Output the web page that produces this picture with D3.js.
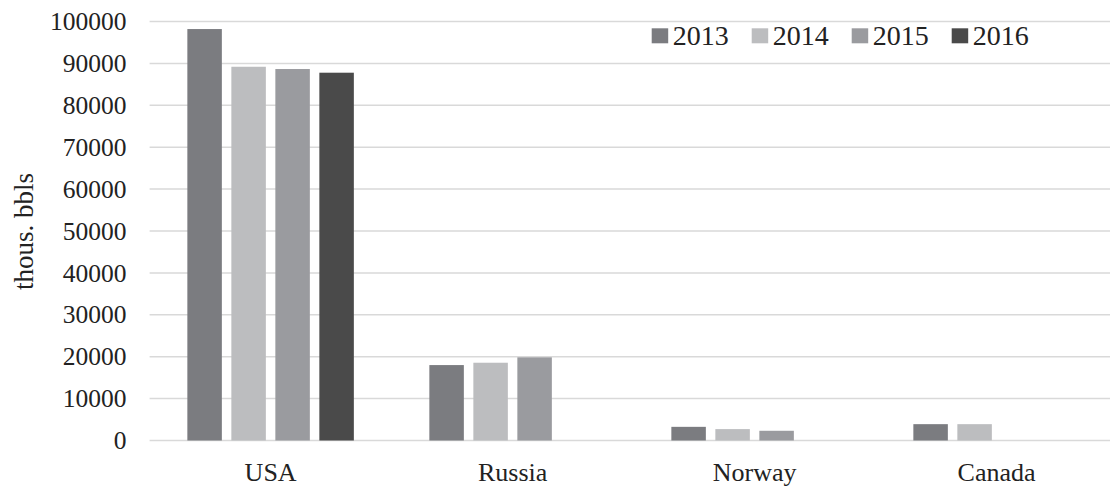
<!DOCTYPE html>
<html>
<head>
<meta charset="utf-8">
<script src="https://cdn.jsdelivr.net/npm/d3@7"></script>
<style>
  body { margin: 0; background: #fff; }
  svg text { font-family: "Liberation Serif", "Times New Roman", Times, serif !important; fill: #222; }
</style>
</head>
<body>
<svg id="chart" width="1110" height="486"></svg>
<script>
// data
var countries = ["USA", "Russia", "Norway", "Canada"];
var years = ["2013", "2014", "2015", "2016"];
var v2013 = [98200, 18000, 3260, 3900];
var v2014 = [89200, 18560, 2720, 3900];
var v2015 = [88660, 19850, 2320, null];
var v2016 = [87780, null, null, null];
var yTicks = [0, 10000, 20000, 30000, 40000, 50000, 60000, 70000, 80000, 90000, 100000];
var colors = ["#7b7c80", "#bcbdbf", "#9a9b9f", "#4a4a4a"];

var series = [v2013, v2014, v2015, v2016];

var svg = d3.select("#chart");
var margin = {top: 21.5, left: 149.6, bottom: 45.5};
var plotW = 968;   // the last category runs past the right edge, as in the original
var height = 486 - margin.top - margin.bottom;

var g = svg.append("g")
    .attr("transform", "translate(" + margin.left + "," + margin.top + ")");

var x0 = d3.scaleBand().domain(countries).range([0, plotW]).padding(0);
var x1 = d3.scaleBand().domain(years).range([0, x0.bandwidth()])
    .paddingInner(0.216).paddingOuter(0.858);
var y = d3.scaleLinear().domain([0, 100000]).range([height, 0]);
var color = d3.scaleOrdinal().domain(years).range(colors);

// gridlines
g.selectAll(".grid")
    .data(yTicks)
    .enter().append("line")
    .attr("x1", 0)
    .attr("x2", plotW)
    .attr("y1", function(d) { return y(d); })
    .attr("y2", function(d) { return y(d); })
    .attr("stroke", "#d9d9d9")
    .attr("stroke-width", 1.5);

// y axis labels
var yAxis = g.append("g")
    .call(d3.axisLeft(y).tickValues(yTicks).tickSize(0).tickPadding(23).tickFormat(d3.format("d")));
yAxis.select(".domain").remove();
yAxis.attr("font-family", null).attr("font-size", null);
yAxis.selectAll("text")
    .style("font-size", "25.5px")
    .attr("fill", "#222");

// x axis labels
var xAxis = g.append("g")
    .attr("transform", "translate(0," + height + ")")
    .call(d3.axisBottom(x0).tickSize(0).tickPadding(22));
xAxis.select(".domain").remove();
xAxis.attr("font-family", null).attr("font-size", null);
xAxis.selectAll("text")
    .style("font-size", "26px")
    .attr("fill", "#222");

// bars
var groups = g.selectAll(".country")
    .data(countries)
    .enter().append("g")
    .attr("transform", function(d) { return "translate(" + x0(d) + ",0)"; });

groups.selectAll("rect")
    .data(function(c, i) {
        return years.map(function(yr, j) { return {year: yr, value: series[j][i]}; })
            .filter(function(d) { return d.value != null; });
    })
    .enter().append("rect")
    .attr("x", function(d) { return x1(d.year); })
    .attr("y", function(d) { return y(d.value); })
    .attr("width", x1.bandwidth())
    .attr("height", function(d) { return height - y(d.value); })
    .attr("fill", function(d) { return color(d.year); });

// y axis title
svg.append("text")
    .attr("transform", "translate(33,231.5) rotate(-90)")
    .attr("text-anchor", "middle")
    .style("font-size", "27px")
    .text("thous. bbls");

// legend
var legend = svg.append("g").attr("transform", "translate(651.7,36)");
var item = legend.selectAll(".item")
    .data(years)
    .enter().append("g")
    .attr("transform", function(d, i) { return "translate(" + (i * 100) + ",0)"; });
item.append("rect")
    .attr("x", 0)
    .attr("y", -7.7)
    .attr("width", 16.5)
    .attr("height", 15)
    .attr("fill", function(d) { return color(d); });
item.append("text")
    .attr("x", 21)
    .attr("y", 9)
    .style("font-size", "28px")
    .text(function(d) { return d; });
</script>
</body>
</html>
